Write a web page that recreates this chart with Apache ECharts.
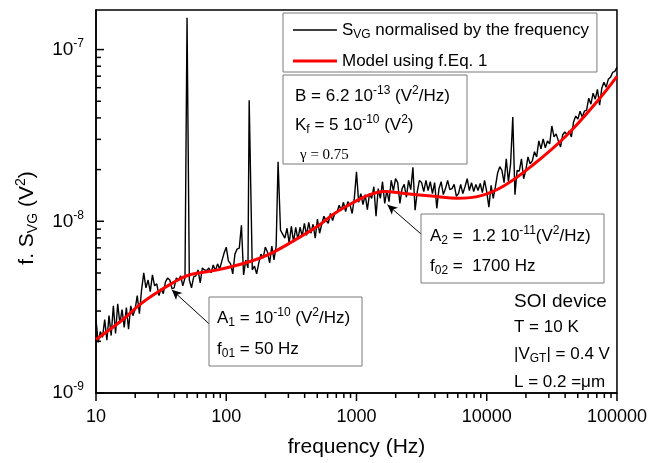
<!DOCTYPE html>
<html><head><meta charset="utf-8">
<script src="https://cdn.jsdelivr.net/npm/echarts@6/dist/echarts.min.js"></script>
<style>html,body{margin:0;padding:0;background:#fff}#c{width:650px;height:463px}</style>
</head><body><div id="c"></div>
<script>
// ---------- data ----------
const seriesNames = ['S_VG normalised by the frequency', 'Model using f.Eq. 1'];

const svgFreq = [
 10,10.39,10.80,11.22,11.66,12.12,12.59,13.08,13.59,14.13,14.68,15.25,15.85,16.47,17.11,17.78,18.48,19.20,19.95,20.73,
 21.54,22.39,23.26,24.17,25.12,26.10,27.12,28.18,29.29,30.43,31.62,32.86,34.15,35.48,36.87,38.31,39.81,41.37,42.99,44.67,
 46.42,48.23,50,52.08,54.12,56.23,58.43,60.72,63.10,65.56,68.13,70.80,73.56,76.44,79.43,82.54,85.77,89.13,92.61,96.24,
 100,103.9,108.0,112.2,116.6,121.2,125.9,130.8,135.9,141.3,146.8,150,158.5,164.7,171.1,177.8,184.8,192.0,199.5,207.3,
 215.4,223.9,232.6,241.7,250,261.0,271.2,281.8,292.9,304.3,316.2,328.6,341.5,354.8,368.7,383.1,398.1,413.7,429.9,446.7,
 464.2,482.3,501.2,520.8,541.2,562.3,584.3,607.2,631.0,655.6,681.3,708.0,735.6,764.4,794.3,825.4,857.7,891.3,926.1,962.4,
 1000,1039,1080,1122,1166,1212,1259,1308,1359,1413,1468,1525,1585,1647,1711,1778,1848,1920,1995,2073,
 2154,2239,2326,2417,2512,2610,2712,2818,2929,3043,3162,3286,3415,3548,3687,3831,3981,4137,4299,4467,
 4642,4823,5012,5208,5412,5623,5843,6072,6310,6556,6813,7079,7356,7644,7943,8254,8577,8913,9261,9624,
 10000,10390,10800,11220,11660,12120,12590,13080,13590,14130,14680,15250,15850,16470,17110,17780,18480,19200,19950,20730,
 21540,22390,23260,24170,25120,26100,27120,28180,29290,30430,31620,32860,34150,35480,36870,38310,39810,41370,42990,44670,
 46420,48230,50120,52080,54120,56230,58430,60720,63100,65560,68130,70800,73560,76440,79430,82540,85770,89130,92610,96240,
 100000
];

const svgValue = [
 2.68e-9,1.97e-9,2.28e-9,2.11e-9,2.68e-9,2.03e-9,2.82e-9,2.16e-9,3.22e-9,2.22e-9,
 3.31e-9,2.54e-9,3.06e-9,2.41e-9,3.14e-9,2.35e-9,3.22e-9,2.82e-9,3.06e-9,3.69e-9,
 2.90e-9,3.99e-9,5.01e-9,4.10e-9,4.55e-9,3.89e-9,4.87e-9,4.21e-9,4.32e-9,3.69e-9,
 4.05e-9,3.79e-9,4.44e-9,4.68e-9,4.55e-9,4.05e-9,4.10e-9,4.68e-9,4.55e-9,4.81e-9,
 4.21e-9,4.68e-9,1.53e-7,4.55e-9,4.10e-9,4.74e-9,4.81e-9,5.21e-9,4.38e-9,5.35e-9,
 5.21e-9,5.15e-9,5.35e-9,5.01e-9,5.57e-9,5.15e-9,5.65e-9,5.28e-9,5.88e-9,6.53e-9,

 7.07e-9,5.88e-9,5.65e-9,4.94e-9,6.44e-9,6.89e-9,6.98e-9,9.48e-9,4.87e-9,5.95e-9,
 5.35e-9,5.07e-8,5.21e-9,5.49e-9,4.94e-9,5.72e-9,6.44e-9,6.11e-9,7.07e-9,6.62e-9,
 5.72e-9,7.17e-9,5.95e-9,7.17e-9,2.22e-8,8.87e-9,8.41e-9,7.97e-9,9.11e-9,7.46e-9,
 9.36e-9,7.56e-9,9.23e-9,7.87e-9,9.23e-9,8.19e-9,9.74e-9,8.29e-9,9.87e-9,8.52e-9,
 9.61e-9,7.97e-9,1.03e-8,8.52e-9,9.61e-9,1.07e-8,1.01e-8,9.74e-9,1.11e-8,1.01e-8,
 1.11e-8,1.125e-8,1.24e-8,1.16e-8,1.29e-8,1.14e-8,1.30e-8,1.25e-8,1.11e-8,1.36e-8,

 1.94e-8,1.29e-8,1.45e-8,1.25e-8,1.43e-8,1.17e-8,1.45e-8,1.36e-8,1.59e-8,1.07e-8,
 1.55e-8,1.36e-8,1.70e-8,1.27e-8,1.51e-8,1.30e-8,1.73e-8,1.51e-8,1.77e-8,1.68e-8,
 1.27e-8,1.55e-8,1.64e-8,1.38e-8,1.73e-8,1.53e-8,2.06e-8,1.16e-8,1.49e-8,1.73e-8,
 1.68e-8,1.49e-8,1.73e-8,1.51e-8,1.70e-8,1.45e-8,1.68e-8,1.19e-8,1.55e-8,1.70e-8,
 1.43e-8,1.55e-8,1.73e-8,1.53e-8,1.55e-8,1.64e-8,1.40e-8,1.45e-8,1.64e-8,1.45e-8,
 1.59e-8,1.77e-8,1.51e-8,1.68e-8,1.49e-8,1.64e-8,1.51e-8,1.66e-8,1.47e-8,1.73e-8,

 1.49e-8,1.21e-8,1.62e-8,1.36e-8,1.59e-8,1.91e-8,2.08e-8,1.98e-8,1.68e-8,2.31e-8,
 1.70e-8,2.16e-8,4.05e-8,1.43e-8,1.98e-8,1.96e-8,2.31e-8,1.77e-8,1.98e-8,2.37e-8,
 2.16e-8,2.25e-8,2.54e-8,2.37e-8,2.94e-8,2.64e-8,3.02e-8,2.68e-8,2.94e-8,2.82e-8,
 3.59e-8,3.10e-8,3.23e-8,2.94e-8,2.71e-8,3.19e-8,3.32e-8,3.19e-8,3.36e-8,3.10e-8,
 3.79e-8,4.10e-8,3.94e-8,4.38e-8,4.05e-8,4.38e-8,4.44e-8,5.21e-8,4.81e-8,5.57e-8,
 5.14e-8,5.87e-8,4.75e-8,5.95e-8,6.45e-8,6.03e-8,6.71e-8,6.89e-8,7.36e-8,7.46e-8,
 7.87e-8
];

const modelFreq = [10,16.1,21.7,29.3,38.9,52.5,86,157,223,335,502,678,916,1214,1640,2335,3963,5945,9075,13610,22320,40640,72780,100000];
const modelValue = [2.05e-9,2.68e-9,3.27e-9,3.84e-9,4.38e-9,4.88e-9,5.21e-9,5.87e-9,6.53e-9,7.76e-9,9.35e-9,1.11e-8,1.27e-8,1.41e-8,1.49e-8,1.45e-8,1.40e-8,1.36e-8,1.41e-8,1.61e-8,2.11e-8,3.14e-8,5.14e-8,6.98e-8];

// axis ranges, tick values and labels
const xRange = [10, 100000];
const yRange = [1e-9, 1.7e-7];
const xMajor = [10,100,1000,10000,100000];
const xTickLabels = ['10','100','1000','10000','100000'];
const xMinor = [20,30,40,50,60,70,80,90,200,300,400,500,600,700,800,900,
  2000,3000,4000,5000,6000,7000,8000,9000,20000,30000,40000,50000,60000,70000,80000,90000];
const yMajor = [1e-9,1e-8,1e-7];
const yTickExp = ['-9','-8','-7'];
const yMinor = [2e-9,3e-9,4e-9,5e-9,6e-9,7e-9,8e-9,9e-9,2e-8,3e-8,4e-8,5e-8,6e-8,7e-8,8e-8,9e-8];

// annotation arrows (data space: [frequency, value])
const arrowA1 = [[74.7,2.51e-9],[38.2,3.99e-9]];
const arrowA2 = [[3204,8.30e-9],[1728,1.25e-8]];

// ---------- chart ----------
const F = "'Liberation Sans', Arial, Helvetica, sans-serif";
const SERIF = "'Liberation Serif', 'Times New Roman', serif";
const rich17 = {
  a:   {fontFamily:F, fontSize:17, lineHeight:22, color:'#000'},
  sup: {fontFamily:F, fontSize:12, lineHeight:12, color:'#000', verticalAlign:'top'},
  sub: {fontFamily:F, fontSize:12, lineHeight:12, color:'#000', verticalAlign:'bottom'},
  g:   {fontFamily:SERIF, fontSize:15, lineHeight:22, color:'#000'},
  big: {fontFamily:F, fontSize:19, lineHeight:24, color:'#000'}
};

function txt(x, y, text) {
  return {type:'text', x:x, y:y, z:110, silent:true,
    style:{text:text, rich:rich17, align:'left', verticalAlign:'middle', fill:'#000'}};
}
function box(x, y, w, h) {
  return {type:'rect', z:100, silent:true, shape:{x:x, y:y, width:w, height:h},
    style:{fill:'#fff', stroke:'#7a7a7a', lineWidth:1}};
}
const lg = Math.log10;
function findTick(list, v) {
  return list.findIndex(t => Math.abs(lg(t) - lg(v)) < 1e-6);
}

// tick marks as marker symbols placed at tick values through the axis scales
function xTickMarks(values, len) {
  return values.map(v => ({coord:[v, yRange[0]], symbol:'rect', symbolSize:[1.5, len],
    symbolOffset:[0, len / 2], itemStyle:{color:'#000'}, label:{show:false}}));
}
function yTickMarks(values, len) {
  return values.map(v => ({coord:[xRange[0], v], symbol:'rect', symbolSize:[len, 1.5],
    symbolOffset:[len / 2, 0], itemStyle:{color:'#000'}, label:{show:false}}));
}
const tickMarks = [].concat(
  xTickMarks(xMajor, 8), xTickMarks(xMinor, 5),
  yTickMarks(yMajor, 8), yTickMarks(yMinor, 5)
);

const chart = echarts.init(document.getElementById('c'), null, {renderer:'canvas'});

chart.setOption({
  animation:false,
  backgroundColor:'#fff',
  grid:{left:96, top:10, right:32, bottom:67, show:true, borderColor:'#000', borderWidth:1.5},
  legend:{
    orient:'vertical', left:283, top:13, padding:[6,8,0,10], itemGap:9,
    itemWidth:44, itemHeight:14, borderColor:'#7a7a7a', borderWidth:1, backgroundColor:'#fff',
    data:[
      {name:seriesNames[0], icon:'path://M0,0H44V0.02H0Z M0,6.3H44V7.7H0Z M0,14H44V14.02H0Z'},
      {name:seriesNames[1], icon:'path://M0,0H44V0.02H0Z M0,5.5H44V8.5H0Z M0,14H44V14.02H0Z'}
    ],
    formatter:function(name){
      return name === seriesNames[0]
        ? '{a|S}{sub|VG}{a| normalised by the frequency}'
        : '{a|' + name + '}';
    },
    textStyle:{rich:rich17, fontSize:17, lineHeight:22}
  },
  xAxis:{
    type:'log', min:xRange[0], max:xRange[1],
    axisLine:{lineStyle:{color:'#000', width:1.5}},
    axisTick:{show:false},
    axisLabel:{color:'#000', fontFamily:F, fontSize:18, margin:15,
      formatter:function(v){
        const i = findTick(xMajor, v);
        return i >= 0 ? xTickLabels[i] : '';
      }},
    splitLine:{show:false},
    name:'frequency (Hz)', nameLocation:'middle', nameGap:44,
    nameTextStyle:{color:'#000', fontFamily:F, fontSize:21}
  },
  yAxis:{
    type:'log', min:yRange[0], max:yRange[1],
    axisLine:{lineStyle:{color:'#000', width:1.5}},
    axisTick:{show:false},
    axisLabel:{margin:12,
      formatter:function(v){
        const i = findTick(yMajor, v);
        return i >= 0 ? '{b|10}{s|' + yTickExp[i] + '}' : '';
      },
      rich:{
        b:{fontFamily:F, fontSize:19, lineHeight:24, color:'#000'},
        s:{fontFamily:F, fontSize:12, lineHeight:12, color:'#000', verticalAlign:'top'}
      }},
    splitLine:{show:false}
  },
  series:[
    {
      name:seriesNames[0], type:'line',
      data:svgFreq.map((f,i) => [f, svgValue[i]]),
      symbol:'none', showSymbol:false,
      lineStyle:{color:'#000', width:1.4}, itemStyle:{color:'#000'},
      z:2
    },
    {
      name:seriesNames[1], type:'line', clip:false,
      data:modelFreq.map((f,i) => [f, modelValue[i]]),
      symbol:'none', showSymbol:false, smooth:0.4,
      lineStyle:{color:'#ff0000', width:3}, itemStyle:{color:'#ff0000'},
      z:3,
      markLine:{
        silent:true, symbol:['none','arrow'], symbolSize:[7,10],
        lineStyle:{color:'#000', width:1, type:'solid'},
        label:{show:false}, emphasis:{disabled:true},
        data:[
          [{coord:arrowA1[0]},{coord:arrowA1[1]}],
          [{coord:arrowA2[0]},{coord:arrowA2[1]}]
        ]
      },
      markPoint:{
        silent:true, label:{show:false}, itemStyle:{color:'#000'},
        emphasis:{disabled:true},
        data:tickMarks
      }
    }
  ],
  graphic:[
    {type:'text', x:27, y:218, rotation:Math.PI/2, z:110, silent:true,
      style:{text:'{n|f. S}{ns|VG}{n| (V}{np|2}{n|)}', align:'center', verticalAlign:'middle',
        rich:{
          n:{fontFamily:F, fontSize:21, lineHeight:26, color:'#000'},
          ns:{fontFamily:F, fontSize:14, lineHeight:14, color:'#000', verticalAlign:'bottom'},
          np:{fontFamily:F, fontSize:14, lineHeight:14, color:'#000', verticalAlign:'top'}
        }}},
    box(283, 75, 184, 89),
    txt(295, 96, '{a|B = 6.2 10}{sup|-13}{a| (V}{sup|2}{a|/Hz)}'),
    txt(295, 125, '{a|K}{sub|f}{a| = 5 10}{sup|-10}{a| (V}{sup|2}{a|)}'),
    txt(300, 155, '{g|γ = 0.75}'),
    box(421, 214, 183, 69),
    txt(430, 236, '{a|A}{sub|2}{a| =  1.2 10}{sup|-11}{a|(V}{sup|2}{a|/Hz)}'),
    txt(430, 266, '{a|f}{sub|02}{a| =  1700 Hz}'),
    box(209, 297, 153, 69),
    txt(217, 318, '{a|A}{sub|1}{a| = 10}{sup|-10}{a| (V}{sup|2}{a|/Hz)}'),
    txt(217, 349, '{a|f}{sub|01}{a| = 50 Hz}'),
    txt(514, 302, '{big|SOI device}'),
    txt(514, 327, '{a|T = 10 K}'),
    txt(514, 354, '{a||V}{sub|GT}{a|| = 0.4 V}'),
    txt(514, 382, '{a|L = 0.2 =μm}')
  ]
});
</script>
</body></html>
